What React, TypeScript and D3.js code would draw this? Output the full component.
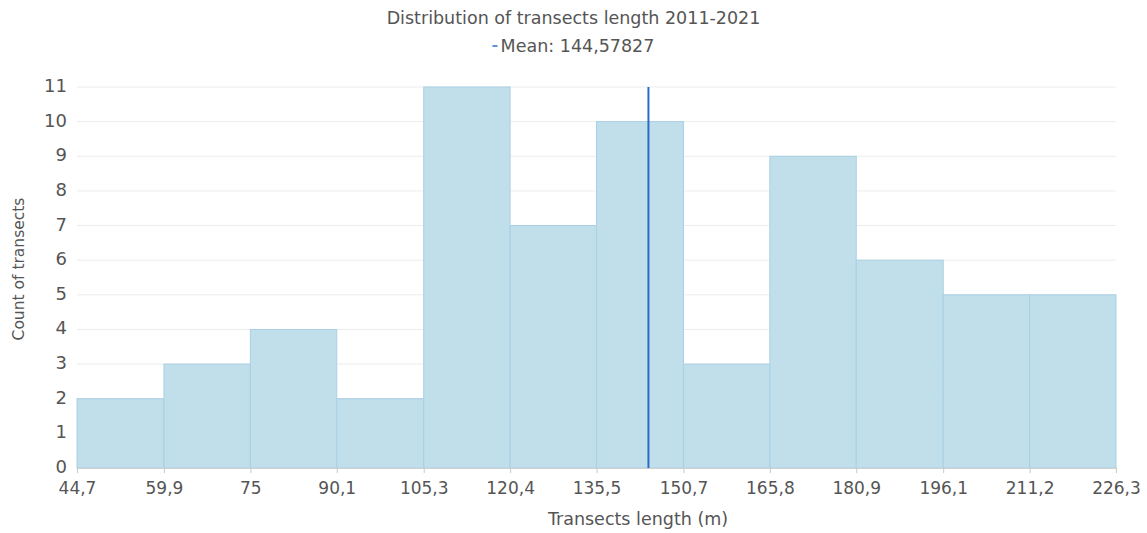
import React, { useEffect, useRef } from 'react';
import * as d3 from 'd3';

const binEdges = [44.7, 59.9, 75, 90.1, 105.3, 120.4, 135.5, 150.7, 165.8, 180.9, 196.1, 211.2, 226.3];
const binLabels = ['44,7', '59,9', '75', '90,1', '105,3', '120,4', '135,5', '150,7', '165,8', '180,9', '196,1', '211,2', '226,3'];
const counts = [2, 3, 4, 2, 11, 7, 10, 3, 9, 6, 5, 5];
const yTicks = [0, 1, 2, 3, 4, 5, 6, 7, 8, 9, 10, 11];
const meanValue = 144.57827;
const meanLabel = 'Mean: 144,57827';

const App: React.FC = () => {
  const svgRef = useRef<SVGSVGElement | null>(null);

  useEffect(() => {
    if (!svgRef.current) return;
    const svg = d3.select(svgRef.current);
    svg.selectAll('*').remove();

    const width = 1147;
    const height = 533;
    const margin = { top: 87, right: 31, bottom: 65, left: 77 };
    const font = "Tahoma, 'DejaVu Sans', sans-serif";

    const x = d3.scaleLinear()
      .domain([binEdges[0], binEdges[binEdges.length - 1]])
      .range([margin.left, width - margin.right]);
    const y = d3.scaleLinear()
      .domain([0, 11])
      .range([height - margin.bottom, margin.top]);

    // gridlines
    svg.append('g')
      .selectAll('line')
      .data(yTicks)
      .join('line')
      .attr('x1', margin.left)
      .attr('x2', width - margin.right)
      .attr('y1', d => y(d))
      .attr('y2', d => y(d))
      .attr('stroke', '#ececec')
      .attr('stroke-width', 1);

    // bars
    svg.append('g')
      .selectAll('rect')
      .data(counts)
      .join('rect')
      .attr('x', (d, i) => x(binEdges[i]))
      .attr('y', d => y(d))
      .attr('width', (d, i) => x(binEdges[i + 1]) - x(binEdges[i]))
      .attr('height', d => y(0) - y(d))
      .attr('fill', '#c1deeb')
      .attr('stroke', '#a9d0e3')
      .attr('stroke-width', 1);

    // x axis
    const xAxis = svg.append('g')
      .attr('transform', `translate(0,${y(0)})`)
      .call(d3.axisBottom(x)
        .tickValues(binEdges)
        .tickFormat((d, i) => binLabels[i])
        .tickSize(5)
        .tickPadding(9));
    xAxis.select('.domain').attr('stroke', '#d0d0d0');
    xAxis.selectAll('.tick line').attr('stroke', '#c8c8c8');
    xAxis.selectAll('.tick text')
      .attr('fill', '#555')
      .style('font-family', font)
      .style('font-size', '17px');

    // y axis labels
    const yAxis = svg.append('g')
      .attr('transform', `translate(${margin.left},0)`)
      .call(d3.axisLeft(y).tickValues(yTicks).tickFormat(d3.format('d')).tickSize(0).tickPadding(10));
    yAxis.select('.domain').remove();
    yAxis.selectAll('.tick text')
      .attr('fill', '#555')
      .attr('dy', '0.25em')
      .style('font-family', font)
      .style('font-size', '18px');

    // mean line
    svg.append('line')
      .attr('x1', x(meanValue))
      .attr('x2', x(meanValue))
      .attr('y1', y(11))
      .attr('y2', y(0))
      .attr('stroke', '#2a6cc4')
      .attr('stroke-width', 2);

    // title
    svg.append('text')
      .attr('x', width / 2)
      .attr('y', 24)
      .attr('text-anchor', 'middle')
      .attr('fill', '#555')
      .style('font-family', font)
      .style('font-size', '17.5px')
      .text('Distribution of transects length 2011-2021');

    // legend
    const legend = svg.append('g').attr('transform', `translate(${width / 2 + 4},52)`);
    legend.append('text')
      .attr('x', 0)
      .attr('y', 0)
      .attr('text-anchor', 'middle')
      .attr('fill', '#555')
      .style('font-family', font)
      .style('font-size', '17.5px')
      .text(meanLabel);
    legend.append('line')
      .attr('x1', -85)
      .attr('x2', -80)
      .attr('y1', -6)
      .attr('y2', -6)
      .attr('stroke', '#2a6cc4')
      .attr('stroke-width', 1.5);

    // axis titles
    svg.append('text')
      .attr('x', 638)
      .attr('y', 525)
      .attr('text-anchor', 'middle')
      .attr('fill', '#555')
      .style('font-family', font)
      .style('font-size', '17.5px')
      .text('Transects length (m)');

    svg.append('text')
      .attr('transform', `translate(24,269) rotate(-90)`)
      .attr('text-anchor', 'middle')
      .attr('fill', '#555')
      .style('font-family', font)
      .style('font-size', '15.5px')
      .text('Count of transects');
  }, []);

  return (
    <svg
      ref={svgRef}
      width={1147}
      height={533}
      style={{ position: 'absolute', left: 0, top: 0, background: '#fff' }}
    />
  );
};

export default App;
